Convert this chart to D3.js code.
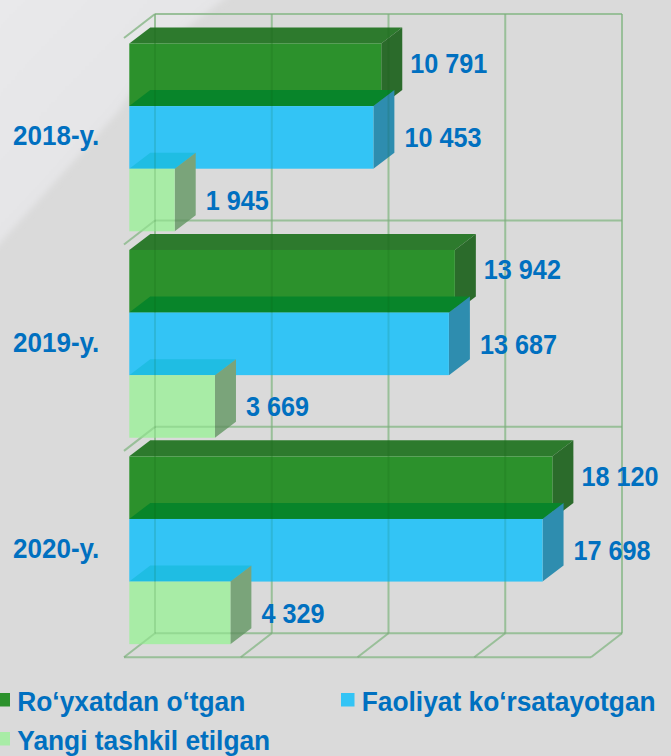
<!doctype html>
<html lang="uz">
<head>
  <meta charset="utf-8">
  <title>Ro‘yxatdan o‘tgan / Faoliyat ko‘rsatayotgan / Yangi tashkil etilgan</title>
  <style>
    html, body { margin: 0; padding: 0; background: #dadada; }
    svg { display: block; }
    .lbl { font-family: "Liberation Sans", Arial, sans-serif; font-weight: bold; fill: #0070c0; }
  </style>
</head>
<body>
  <div id="chart"></div>
  <script src="https://d3js.org/d3.v7.min.js"></script>
  <script>

  // DATA
  const years = ["2018-y.", "2019-y.", "2020-y."];
  const seriesNames = ["Ro‘yxatdan o‘tgan", "Faoliyat ko‘rsatayotgan", "Yangi tashkil etilgan"];
  const registered = [10791, 13942, 18120];
  const active = [10453, 13687, 17698];
  const newlyCreated = [1945, 3669, 4329];
  const xTicks = [0, 5000, 10000, 15000, 20000];

  // STYLE (front, top, side per series)
  const faces = [
    { front: "#2c912c", top: "#2d7a2d", side: "#2b6b2b" },
    { front: "#33c4f5", top: "#08852a", side: "#2e8daf" },
    { front: "#a8eca6", top: "#1fbde3", side: "#7aa47a" }
  ];
  const legendColors = ["#2c912c", "#33c4f5", "#a8eca6"];
  const labelShift = [-12, 0, 0];
  const labelGap = [8, 10, 10];

  const W = 671, H = 756;
  const wall = { left: 155, right: 622, top: 14, bottom: 633.3 };
  const floorD = { dx: -31, dy: 24 };   // floor depth towards viewer
  const barD = { dx: 21, dy: -16 };     // bar depth
  const frontX0 = 129.3;

  const series = [registered, active, newlyCreated];
  const fmt = v => d3.format(",")(v).replace(/,/g, " ");

  const svg = d3.select("#chart").append("svg")
    .attr("width", W).attr("height", H);

  // background with a slightly lighter corner
  const defs = svg.append("defs");
  const grad = defs.append("linearGradient").attr("id", "corner")
    .attr("x1", "0").attr("y1", "0").attr("x2", "1").attr("y2", "1");
  grad.append("stop").attr("offset", "0%").attr("stop-color", "#e9e9eb");
  grad.append("stop").attr("offset", "100%").attr("stop-color", "#e1e1e3");
  const blur = defs.append("filter").attr("id", "soft");
  blur.append("feGaussianBlur").attr("stdDeviation", 3);

  svg.append("rect").attr("width", W).attr("height", H).attr("fill", "#dadada");
  svg.append("path").attr("d", "M-10,-10 L236,-10 L160,48 L118,112 L-10,254 Z")
    .attr("fill", "url(#corner)").attr("filter", "url(#soft)");

  const x = d3.scaleLinear().domain([0, 20000]).range([wall.left, wall.right]);
  const y = d3.scaleBand().domain(years).range([wall.top, wall.bottom]);
  const inner = d3.scaleBand().domain(d3.range(series.length)).range([29.5, 29.5 + 187.8]);
  const fx = v => frontX0 + x(v) - x(0);

  // GRID
  function drawGrid(g) {
    const hLines = years.map(d => y(d)).concat([wall.bottom]);
    g.selectAll(".h").data(hLines).join("line").attr("class", "h")
      .attr("x1", wall.left).attr("x2", wall.right)
      .attr("y1", d => d).attr("y2", d => d);
    g.selectAll(".hd").data(hLines.slice(0, -1)).join("line").attr("class", "hd")
      .attr("x1", wall.left).attr("y1", d => d)
      .attr("x2", wall.left + floorD.dx).attr("y2", d => d + floorD.dy);
    g.selectAll(".v").data(xTicks).join("line").attr("class", "v")
      .attr("x1", d => x(d)).attr("x2", d => x(d))
      .attr("y1", wall.top).attr("y2", wall.bottom);
    g.selectAll(".vd").data(xTicks).join("line").attr("class", "vd")
      .attr("x1", d => x(d)).attr("y1", wall.bottom)
      .attr("x2", d => x(d) + floorD.dx).attr("y2", wall.bottom + floorD.dy);
    g.append("line")
      .attr("x1", x(0) + floorD.dx).attr("x2", x(20000) + floorD.dx)
      .attr("y1", wall.bottom + floorD.dy).attr("y2", wall.bottom + floorD.dy);
  }

  const grid = svg.append("g").attr("stroke", "#aecfae").attr("stroke-width", 2).attr("fill", "none");
  drawGrid(grid);

  // BARS
  const bars = svg.append("g");
  years.forEach((yr, i) => {
    series.forEach((s, k) => {
      const top = y(yr) + inner(k), bot = top + inner.bandwidth();
      const x0 = fx(0), x1 = fx(s[i]);
      const g = bars.append("g");
      g.append("path").attr("fill", faces[k].top)
        .attr("d", `M${x0},${top}L${x0 + barD.dx},${top + barD.dy}L${x1 + barD.dx},${top + barD.dy}L${x1},${top}Z`);
      g.append("path").attr("fill", faces[k].side)
        .attr("d", `M${x1},${top}L${x1 + barD.dx},${top + barD.dy}L${x1 + barD.dx},${bot + barD.dy}L${x1},${bot}Z`);
      g.append("rect").attr("fill", faces[k].front)
        .attr("x", x0).attr("y", top).attr("width", x1 - x0).attr("height", bot - top);
    });
  });

  // grid seen through the translucent bars
  const ghost = svg.append("g").attr("stroke", "#0c4f0c").attr("stroke-opacity", 0.12)
    .attr("stroke-width", 2).attr("fill", "none");
  drawGrid(ghost);

  // VALUE LABELS
  const labels = svg.append("g");
  years.forEach((yr, i) => {
    series.forEach((s, k) => {
      const top = y(yr) + inner(k);
      const cy = top + inner.bandwidth() / 2 + labelShift[k];
      labels.append("text").attr("class", "lbl")
        .attr("font-size", 28)
        .attr("transform", `translate(${fx(s[i]) + barD.dx + labelGap[k]},${cy + 10}) scale(0.9,1)`)
        .text(fmt(s[i]));
    });
  });

  // CATEGORY LABELS
  svg.append("g").selectAll("text").data(years).join("text")
    .attr("class", "lbl").attr("font-size", 28)
    .attr("transform", d => `translate(13,${y(d) + 29.5 + 187.8 / 2 + 8}) scale(0.93,1)`)
    .text(d => d);

  // LEGEND
  const legendPos = [[-3.5, 693], [341, 693], [-3.5, 732]];
  const legend = svg.append("g").selectAll("g").data(seriesNames).join("g")
    .attr("transform", (d, i) => `translate(${legendPos[i][0]},${legendPos[i][1]})`);
  legend.append("rect").attr("width", 13.5).attr("height", 13.5)
    .attr("fill", (d, i) => legendColors[i]);
  legend.append("text").attr("class", "lbl").attr("font-size", 28)
    .attr("transform", "translate(20.8,17.5) scale(0.94,1)")
    .text(d => d);

  </script>
</body>
</html>
